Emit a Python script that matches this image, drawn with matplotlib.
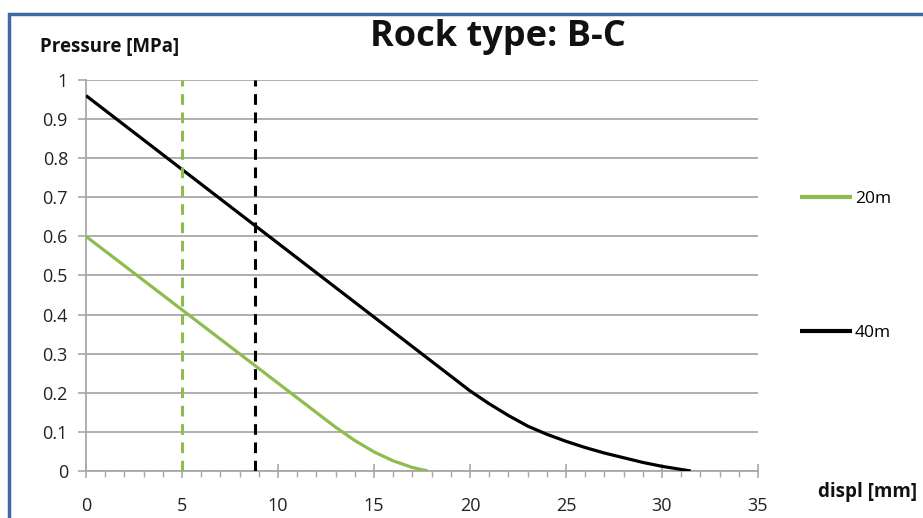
import matplotlib
matplotlib.use("Agg")
import matplotlib.pyplot as plt
from matplotlib.patches import Rectangle
from matplotlib.ticker import MultipleLocator

plt.rcParams["font.family"] = ["Open Sans", "DejaVu Sans"]

# pressure-displacement curves per depth
displ_20m = [0, 13, 14, 15, 16, 17, 17.8]
pressure_20m = [0.6, 0.112, 0.078, 0.049, 0.026, 0.009, 0.0]

displ_40m = [0, 20, 21, 22, 23, 24, 25, 26, 27, 28, 29, 30, 31.5]
pressure_40m = [0.96, 0.205, 0.172, 0.142, 0.115, 0.094, 0.076, 0.06,
                0.046, 0.034, 0.022, 0.012, 0.0]

# equilibrium displacement markers
marker_20m = 5.0
marker_40m = 8.8

y_ticks = [0, 0.1, 0.2, 0.3, 0.4, 0.5, 0.6, 0.7, 0.8, 0.9, 1]
y_tick_labels = ["0", "0.1", "0.2", "0.3", "0.4", "0.5", "0.6",
                 "0.7", "0.8", "0.9", "1"]

GREEN = "#8fbc4f"
GRID = "#a8a8a8"


def main():
    fig = plt.figure(figsize=(9.23, 5.18), dpi=100)
    ax = fig.add_axes([0.0932, 0.0907, 0.728, 0.7549])

    ax.plot(displ_20m, pressure_20m, color=GREEN, lw=2.3, label="20m",
            solid_capstyle="butt", zorder=3)
    ax.plot(displ_40m, pressure_40m, color="black", lw=2.3, label="40m",
            solid_capstyle="butt", zorder=3)

    ax.plot([marker_20m, marker_20m], [0, 1], color=GREEN, lw=2.2,
            dashes=(3.5, 2.5), zorder=3)
    ax.plot([marker_40m, marker_40m], [0, 1], color="black", lw=2.2,
            dashes=(3.5, 2.5), zorder=3)

    ax.set_xlim(0, 35)
    ax.set_ylim(0, 1)
    ax.xaxis.set_major_locator(MultipleLocator(5))
    ax.xaxis.set_minor_locator(MultipleLocator(1))
    ax.set_yticks(y_ticks)
    ax.set_yticklabels(y_tick_labels)

    ax.grid(axis="y", color=GRID, lw=1.3)
    ax.set_axisbelow(True)
    for side in ("top", "right"):
        ax.spines[side].set_visible(False)
    for side in ("left", "bottom"):
        ax.spines[side].set_color(GRID)
        ax.spines[side].set_linewidth(1.3)

    ax.tick_params(axis="x", which="major", direction="inout", length=10,
                   width=1.2, color=GRID, labelsize=13, pad=14,
                   labelcolor="#222222")
    ax.tick_params(axis="x", which="minor", direction="out", length=4,
                   width=1.0, color=GRID)
    ax.tick_params(axis="y", which="major", direction="out", length=6,
                   width=1.2, color=GRID, labelsize=13, pad=7,
                   labelcolor="#222222")

    fig.text(0.539, 0.928, "Rock type: B-C", ha="center", va="center",
             fontsize=26, fontweight="bold", color="#111111")
    fig.text(0.043, 0.909, "Pressure [MPa]", ha="left", va="center",
             fontsize=13.5, fontweight="bold", color="#111111")
    fig.text(0.886, 0.050, "displ [mm]", ha="left", va="center",
             fontsize=13.5, fontweight="bold", color="#111111")

    ax.legend(loc="upper left", bbox_to_anchor=(800 / 923, 1 - 191 / 518),
              bbox_transform=fig.transFigure, frameon=False, fontsize=12.5,
              handlelength=3.0, handletextpad=0.15, labelspacing=6.8,
              borderpad=0, borderaxespad=0)
    for handle in ax.get_legend().get_lines():
        handle.set_linewidth(3.0)

    # blue frame around the chart
    fig.patches.append(Rectangle((9 / 923, -0.2), 1.2, 1.2 - 14 / 518,
                                 transform=fig.transFigure, fill=False,
                                 edgecolor="#3e6aa3", lw=2.5, clip_on=False))

    fig.savefig("out.png", dpi=100)


if __name__ == "__main__":
    main()
